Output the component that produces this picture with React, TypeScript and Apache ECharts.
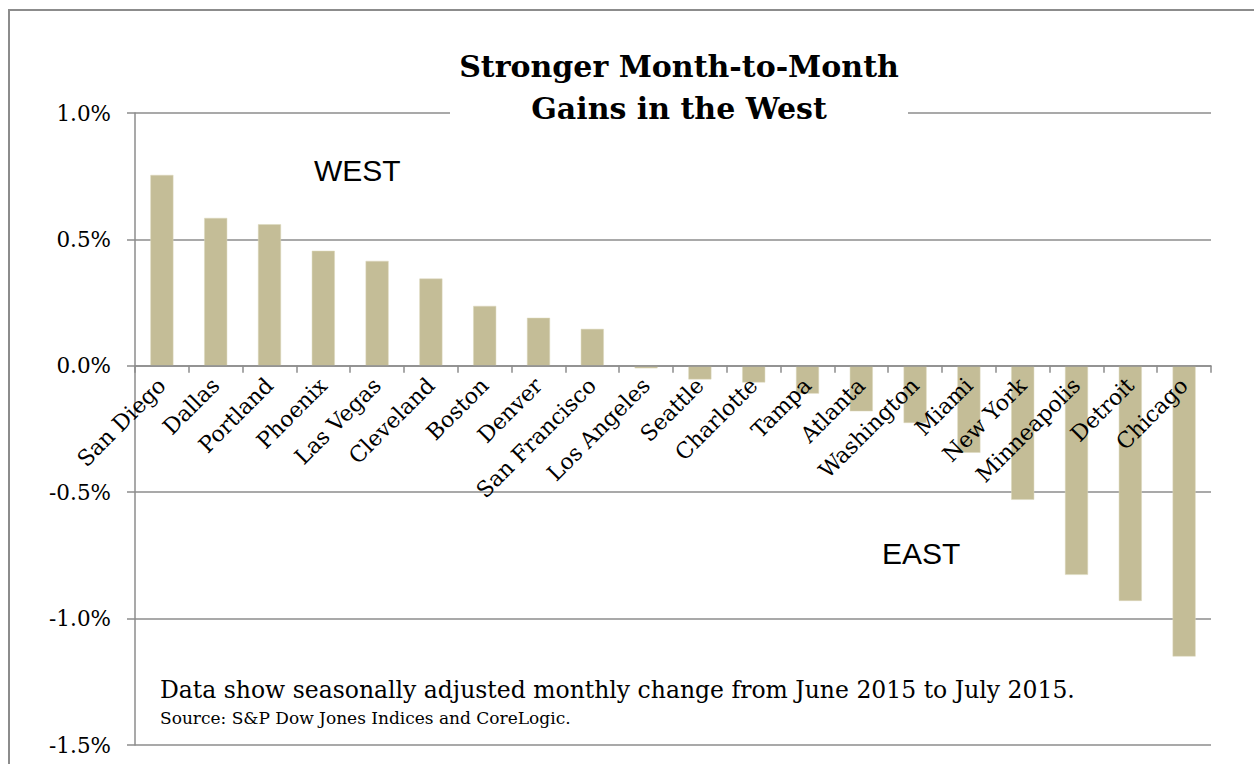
import React, { useEffect, useRef } from "react";
import * as echarts from "echarts";

const cities = [
  "San Diego", "Dallas", "Portland", "Phoenix", "Las Vegas", "Cleveland", "Boston",
  "Denver", "San Francisco", "Los Angeles", "Seattle", "Charlotte", "Tampa", "Atlanta",
  "Washington", "Miami", "New York", "Minneapolis", "Detroit", "Chicago",
];
const monthlyChange = [
  0.755, 0.585, 0.56, 0.455, 0.415, 0.345, 0.237, 0.19, 0.146, -0.01,
  -0.054, -0.066, -0.11, -0.18, -0.226, -0.344, -0.53, -0.827, -0.93, -1.15,
];
const titleLines = ["Stronger Month-to-Month", "Gains in the West"];
const noteText = "Data show seasonally adjusted monthly change from June 2015 to July 2015.";
const sourceText = "Source: S&P Dow Jones Indices and CoreLogic.";

const SERIF = "DejaVu Serif";
const SANS = "Liberation Sans";

const Y_MIN = -1.5;
const Y_MAX = 1.0;
const GRID_TOP = 113;
const GRID_BOTTOM = 19;
const HEIGHT = 764;

export default function App() {
  const ref = useRef<HTMLDivElement>(null);
  useEffect(() => {
    if (!ref.current) return;
    const chart = echarts.init(ref.current, null, { renderer: "svg" });
    const plotH = HEIGHT - GRID_TOP - GRID_BOTTOM;
    // distance from grid bottom to the zero line, so the category axis sits at 0
    const zeroOffset = (-Y_MIN / (Y_MAX - Y_MIN)) * plotH;
    chart.setOption({
      animation: false,
      backgroundColor: "#ffffff",
      grid: {
        left: 135,
        right: 43,
        top: GRID_TOP,
        bottom: GRID_BOTTOM,
        containLabel: false,
        outerBoundsMode: "none",
      },
      xAxis: {
        type: "category",
        data: cities,
        offset: -zeroOffset,
        z: 10,
        axisLine: { onZero: false, lineStyle: { color: "#8c8c8c", width: 1.5 } },
        axisTick: { show: true, length: 7, lineStyle: { color: "#8c8c8c", width: 1.5 } },
        axisLabel: {
          rotate: 45,
          interval: 0,
          margin: 16,
          color: "#000",
          fontFamily: SERIF,
          fontSize: 22,
        },
      },
      yAxis: {
        type: "value",
        min: Y_MIN,
        max: Y_MAX,
        interval: 0.5,
        axisLine: { show: true, lineStyle: { color: "#8c8c8c", width: 1.5 } },
        axisTick: { show: true, length: 8, lineStyle: { color: "#8c8c8c", width: 1.5 } },
        splitLine: { show: true, lineStyle: { color: "#8c8c8c", width: 1.5 } },
        axisLabel: {
          margin: 24,
          color: "#000",
          fontFamily: SERIF,
          fontSize: 21.5,
          formatter: (v: number) => v.toFixed(1) + "%",
        },
      },
      series: [
        {
          type: "bar",
          data: monthlyChange,
          barWidth: 23,
          z: 2,
          itemStyle: { color: "#c4bd97", borderColor: "#ddd8bd", borderWidth: 0.5 },
        },
      ],
      graphic: [
        {
          type: "rect",
          z: 100,
          shape: { x: 9, y: 10, width: 1260, height: 770 },
          style: { fill: "none", stroke: "#8c8c8c", lineWidth: 2 },
          silent: true,
        },
        {
          type: "rect",
          z: 100,
          shape: { x: 450, y: 100, width: 458, height: 22 },
          style: { fill: "#ffffff" },
        },
        {
          type: "text",
          z: 101,
          x: 679,
          y: 66,
          style: {
            text: titleLines[0],
            fill: "#000",
            fontFamily: SERIF,
            fontWeight: "bold",
            fontSize: 30,
            textAlign: "center",
            textVerticalAlign: "middle",
          },
        },
        {
          type: "text",
          z: 101,
          x: 679,
          y: 108,
          style: {
            text: titleLines[1],
            fill: "#000",
            fontFamily: SERIF,
            fontWeight: "bold",
            fontSize: 30,
            textAlign: "center",
            textVerticalAlign: "middle",
          },
        },
        {
          type: "text",
          z: 101,
          x: 314,
          y: 170,
          style: { text: "WEST", fill: "#000", fontFamily: SANS, fontSize: 30, textVerticalAlign: "middle" },
        },
        {
          type: "text",
          z: 101,
          x: 882,
          y: 553,
          style: { text: "EAST", fill: "#000", fontFamily: SANS, fontSize: 30, textVerticalAlign: "middle" },
        },
        {
          type: "text",
          z: 101,
          x: 160,
          y: 690,
          style: { text: noteText, fill: "#000", fontFamily: SERIF, fontSize: 23.5, textVerticalAlign: "middle" },
        },
        {
          type: "text",
          z: 101,
          x: 160,
          y: 718,
          style: { text: sourceText, fill: "#000", fontFamily: SERIF, fontSize: 17, textVerticalAlign: "middle" },
        },
      ],
    });
    return () => chart.dispose();
  }, []);
  return (
    <div
      ref={ref}
      style={{ position: "fixed", left: 0, top: 0, width: 1254, height: 764, background: "#fff" }}
    />
  );
}
